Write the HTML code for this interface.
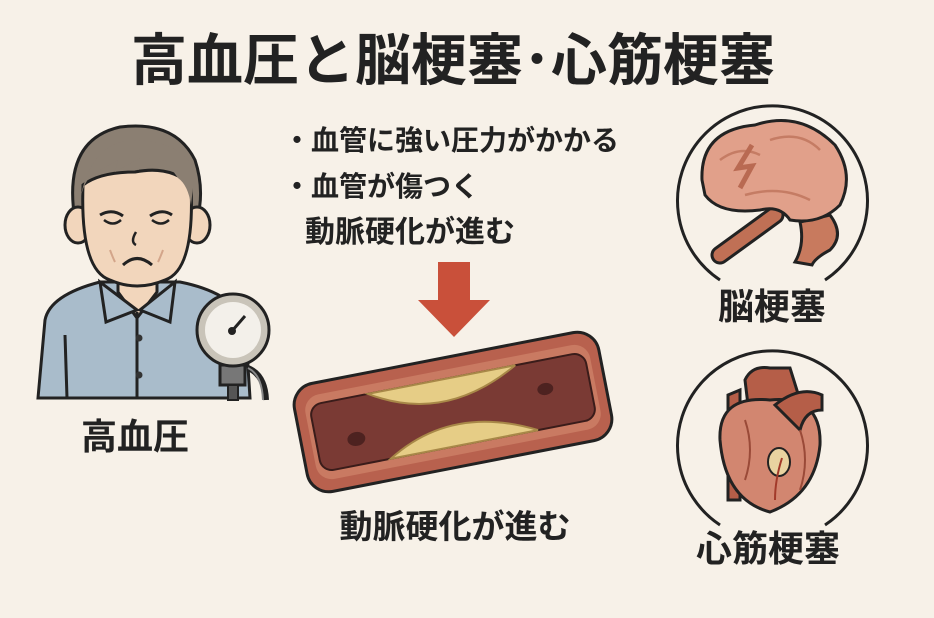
<!DOCTYPE html>
<html><head><meta charset="utf-8"><style>
html,body{margin:0;padding:0;background:#f7f1e8;}
svg{display:block}
text{font-family:"Liberation Sans","Noto Sans CJK JP",sans-serif;fill:#222;font-weight:bold}
</style></head><body>
<svg width="934" height="618" viewBox="0 0 934 618" xmlns="http://www.w3.org/2000/svg">
<rect width="934" height="618" fill="#f7f1e8"/>
<text x="453" y="80" font-size="56" text-anchor="middle">高血圧と脳梗塞･心筋梗塞</text>

<!-- man -->
<path d="M38 398 L45 320 Q50 295 100 282 L180 282 Q230 292 245 320 L250 398 Z" fill="#a9bccb" stroke="#222" stroke-width="3"/>
<path d="M118 262 L118 292 L137 318 L157 292 L157 262 Z" fill="#f2d6bc" stroke="#222" stroke-width="3"/>
<path d="M100 282 L106 322 L137 310 Z M175 282 L170 322 L140 310 Z" fill="#a9bccb" stroke="#222" stroke-width="3"/>
<line x1="137" y1="312" x2="137" y2="398" stroke="#222" stroke-width="3"/>
<line x1="65" y1="335" x2="67" y2="398" stroke="#222" stroke-width="3"/>
<circle cx="139" cy="338" r="3.5" fill="#333"/><circle cx="139" cy="375" r="3.5" fill="#333"/>
<path d="M75 220 Q62 140 120 127 Q175 120 195 160 Q205 190 197 220 Z" fill="#8b7f72" stroke="#222" stroke-width="3"/>
<ellipse cx="78" cy="225" rx="13" ry="18" fill="#f2d6bc" stroke="#222" stroke-width="3"/>
<ellipse cx="197" cy="225" rx="13" ry="18" fill="#f2d6bc" stroke="#222" stroke-width="3"/>
<path d="M83 185 Q80 270 110 280 Q137 292 165 280 Q195 270 191 185 Q170 165 135 172 Q100 172 83 185 Z" fill="#f2d6bc" stroke="#222" stroke-width="3"/>
<path d="M80 200 Q85 175 100 170 L118 160 L115 172 L140 158 L138 170 L165 160 L178 178 Q188 185 191 205 L195 170 Q180 140 130 140 Q90 145 80 200 Z" fill="#8b7f72"/>
<path d="M100 215 Q112 208 123 216 M150 216 Q162 208 172 215" stroke="#222" stroke-width="3" fill="none"/>
<path d="M104 220 Q113 227 121 220 M152 220 Q161 227 169 220" stroke="#222" stroke-width="2.5" fill="none"/>
<path d="M136 232 Q130 242 136 245" stroke="#222" stroke-width="2.5" fill="none"/>
<path d="M110 250 Q113 258 115 262 M163 250 Q160 258 158 262" stroke="#d3a58a" stroke-width="2" fill="none"/>
<path d="M123 265 Q137 252 152 265" stroke="#222" stroke-width="3" fill="none"/>
<!-- gauge -->
<path d="M248 368 Q265 375 266 400" stroke="#222" stroke-width="6" fill="none"/>
<path d="M248 368 Q262 375 263 400" stroke="#888" stroke-width="2" fill="none"/>
<rect x="220" y="365" width="25" height="20" fill="#777" stroke="#222" stroke-width="3"/>
<rect x="228" y="385" width="10" height="15" fill="#555" stroke="#222" stroke-width="2"/>
<circle cx="233" cy="330" r="36" fill="#c9c4b9" stroke="#222" stroke-width="3"/>
<circle cx="233" cy="330" r="28" fill="#f3f0ea"/>
<line x1="232" y1="331" x2="245" y2="316" stroke="#222" stroke-width="3"/>
<circle cx="232" cy="331" r="4" fill="#222"/>
<text x="135" y="449" font-size="36" text-anchor="middle">高血圧</text>

<!-- bullets -->
<text x="283" y="150" font-size="28">・血管に強い圧力がかかる</text>
<text x="283" y="196" font-size="28">・血管が傷つく</text>
<text x="305" y="242" font-size="30">動脈硬化が進む</text>
<path d="M438 262 L470 262 L470 300 L490 300 L454 337 L418 300 L438 300 Z" fill="#c9503a"/>

<!-- vessel -->
<g transform="translate(453,412) rotate(-11)">
<rect x="-155" y="-55" width="310" height="110" rx="22" fill="#b8614e" stroke="#222" stroke-width="3"/>
<rect x="-145" y="-43" width="290" height="86" rx="16" fill="#c97a62"/>
<rect x="-140" y="-34" width="280" height="68" rx="12" fill="#7a3a34" stroke="#3a1c1a" stroke-width="2"/>
<path d="M-80 -34 Q-10 10 70 -34 Z" fill="#e6cd86" stroke="#a88848" stroke-width="2"/>
<path d="M-70 34 Q0 -8 80 34 Z" fill="#e6cd86" stroke="#a88848" stroke-width="2"/>
<ellipse cx="-100" cy="8" rx="9" ry="7" fill="#4d2220"/>
<ellipse cx="95" cy="-5" rx="8" ry="6" fill="#4d2220"/>
</g>
<text x="455" y="538" font-size="33" text-anchor="middle">動脈硬化が進む</text>

<!-- brain -->
<path d="M720 280 A95 95 0 1 1 825 280" stroke="#222" stroke-width="3" fill="none"/>
<path d="M795 262 Q805 245 800 222 L830 215 Q845 235 830 250 Q815 258 812 265 Z" fill="#c87a5e" stroke="#222" stroke-width="3"/>
<path d="M720 255 L775 215" stroke="#222" stroke-width="19" stroke-linecap="round"/>
<path d="M720 255 L775 215" stroke="#c07055" stroke-width="13" stroke-linecap="round"/>
<path d="M702 180 Q700 130 755 125 Q800 110 835 145 Q855 175 840 205 Q820 225 790 220 Q780 205 760 210 Q720 215 705 195 Z" fill="#e1a08a" stroke="#222" stroke-width="3"/>
<path d="M720 160 Q740 145 760 155 M770 140 Q800 130 820 150 M745 195 Q780 185 810 200" stroke="#c57c64" stroke-width="2.5" fill="none"/>
<path d="M752 145 L738 168 L752 166 L740 188" stroke="#b96a52" stroke-width="5" fill="none"/>
<text x="772" y="319" font-size="36" text-anchor="middle">脳梗塞</text>

<!-- heart -->
<path d="M720 525 A95 95 0 1 1 825 525" stroke="#222" stroke-width="3" fill="none"/>
<path d="M728 395 L740 390 L740 500 L728 500 Z" fill="#b55e48" stroke="#222" stroke-width="3"/>
<path d="M745 380 Q752 365 770 368 L790 368 L800 400 L748 405 Z" fill="#b55e48" stroke="#222" stroke-width="3"/>
<path d="M720 440 Q718 395 770 400 Q822 395 820 445 Q815 495 770 512 Q725 500 720 440 Z" fill="#d28670" stroke="#222" stroke-width="3"/>
<path d="M775 405 Q800 385 822 395 L822 410 Q805 410 800 430 Z" fill="#b55e48" stroke="#222" stroke-width="3"/>
<path d="M745 420 Q755 450 745 480 M800 430 Q810 460 800 490" stroke="#9a4a38" stroke-width="2" fill="none"/>
<ellipse cx="779" cy="462" rx="11" ry="14" fill="#e9d3a0" stroke="#222" stroke-width="2"/>
<path d="M782 458 Q775 480 775 500" stroke="#a23a2a" stroke-width="2" fill="none"/>
<text x="768" y="561" font-size="36" text-anchor="middle">心筋梗塞</text>
</svg>
</body></html>
